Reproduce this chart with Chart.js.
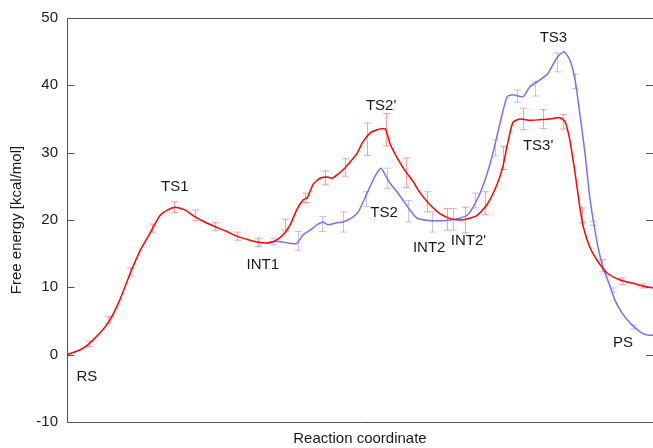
<!DOCTYPE html>
<html>
<head>
<meta charset="utf-8">
<script src="https://cdn.jsdelivr.net/npm/chart.js@4.4.1/dist/chart.umd.min.js"></script>
<style>
  html, body { margin: 0; padding: 0; background: #ffffff; }
  #wrap { width: 653px; height: 448px; }
</style>
</head>
<body>
<div id="wrap"><canvas id="c" width="653" height="448"></canvas></div>
<script>
// ---- Data (reaction coordinate 0..100, free energy in kcal/mol) ----
const redX = [0,2.2,3.6,5.6,7.3,9.0,10.8,12.5,14.2,15.9,17.2,18.4,20.1,21.8,23.5,25.3,27.0,29.0,31.2,32.6,34.3,35.5,36.9,38.1,39.2,40.3,41.0,42.0,43.2,44.4,45.2,46.1,47.4,48.6,49.5,50.5,51.7,52.9,54.3,55.1,56.3,57.7,59.0,60.2,61.9,63.7,65.4,67.1,68.4,70.0,71.7,73.4,74.4,75.1,76.1,77.3,79.0,80.7,82.4,84.1,85.0,85.8,86.7,87.5,88.1,89.2,90.4,92.2,94.4,96.6,98.3,100];
const redY = [0,0.7,1.5,3.2,5.1,8.1,12.1,15.5,18.1,20.7,21.5,21.9,21.5,20.5,19.7,19.0,18.4,17.6,17.0,16.7,16.6,16.9,17.8,19.3,21.5,23.0,23.3,25.3,26.2,26.4,26.2,26.7,27.7,28.9,29.9,31.6,32.9,33.4,33.5,31.4,29.3,27.3,25.8,24.1,22.3,20.9,20.2,20.0,20.2,20.7,22.3,25.3,28.0,31.0,34.5,35.0,34.8,34.9,35.0,35.2,34.6,31.9,27.0,22.0,19.0,16.0,14.1,12.1,11.1,10.6,10.2,9.9];

const blueX = [34.3,36.0,37.7,39.2,40.3,41.5,42.7,43.7,44.5,46.1,47.1,48.6,49.7,50.9,52.0,52.9,53.6,54.3,55.1,56.3,57.3,58.5,59.7,61.9,63.7,65.4,67.1,68.3,69.3,70.5,71.7,72.7,73.9,75.1,76.1,77.8,79.0,80.7,82.1,83.6,84.8,85.8,86.7,87.5,88.4,89.2,89.8,90.6,91.5,92.7,93.5,94.7,96.1,97.8,99.1,100];
const blueY = [16.7,16.8,16.6,16.5,17.8,18.5,19.3,19.7,19.3,19.6,19.7,20.3,21.2,23.4,25.5,27.0,27.7,26.7,25.5,24.2,23.0,21.5,20.3,19.9,19.9,20.0,20.3,20.7,21.9,24.0,26.9,30.0,34.4,38.3,38.6,38.3,39.8,40.8,41.8,44.1,45.0,43.8,40.8,35.9,29.9,23.4,20.0,16.0,12.9,10.1,8.1,6.2,4.7,3.4,2.9,2.9];

const redErrX = [3.8,7.0,10.8,14.5,18.3,21.8,25.3,29.0,32.6,37.2,40.6,44.0,47.4,51.2,54.4,57.8,61.4,64.8,67.9,71.3,74.4,77.8,81.2,84.6,87.9,91.3,94.7,98.1];
const redErrY = [1.6,5.2,12.3,18.8,21.9,20.7,19.0,17.6,16.7,19.3,23.3,26.3,27.8,32.0,33.4,27.0,22.7,20.1,20.0,22.5,29.2,35.0,35.0,34.6,20.7,13.2,10.9,10.2];
const redErr  = [0.4,0.5,0.6,0.6,0.8,0.8,0.6,0.6,0.6,0.8,0.7,1.0,1.3,2.4,2.4,2.2,1.5,1.6,1.9,1.7,1.7,1.6,1.4,1.1,1.1,0.9,0.5,0.3];

const blueErrX = [35.2,39.4,43.5,47.1,51.0,54.6,58.2,62.3,65.9,69.6,73.0,76.8,79.9,83.6,86.7,89.8,93.2,96.6];
const blueErrY = [16.8,16.9,19.4,19.7,23.1,26.2,21.3,19.7,20.1,22.9,30.7,38.4,39.5,43.4,40.6,19.5,9.6,4.1];
const blueErr  = [0.5,1.4,1.1,1.5,1.1,1.5,1.6,1.5,1.6,1.1,1.2,0.9,1.1,1.4,1.1,0.3,0.3,0.3];

const labelText = ['RS','TS1','INT1',"TS2'",'TS2','INT2',"INT2'",'TS3',"TS3'",'PS'];
const labelX    = [3.4, 18.4, 33.4, 53.6, 54.1, 61.8, 68.5, 83.0, 80.4, 94.9];
const labelY    = [-3.3, 24.9, 13.3, 36.9, 21.0, 15.9, 16.9, 47.0, 31.0, 1.7];

const yTicks = [-10, 0, 10, 20, 30, 40, 50];

const RED = '#ff0000';
const BLUE = '#7d6dff';
const RED_ERR = 'rgba(255,110,110,0.65)';
const BLUE_ERR = 'rgba(150,140,255,0.55)';
const FONT = 'Liberation Sans, Arial, sans-serif';
const FS = 15;

function toPts(xs, ys) { return xs.map((x, i) => ({ x: x, y: ys[i] })); }

const errPlugin = {
  id: 'errbars',
  beforeDatasetsDraw(chart) {
    const ctx = chart.ctx, xs = chart.scales.x, ys = chart.scales.y;
    const draw = (X, Y, E, color) => {
      ctx.save();
      ctx.strokeStyle = color;
      ctx.lineWidth = 1;
      for (let i = 0; i < X.length; i++) {
        const px = Math.round(xs.getPixelForValue(X[i])) + 0.5;
        const p1 = ys.getPixelForValue(Y[i] - E[i]);
        const p2 = ys.getPixelForValue(Y[i] + E[i]);
        ctx.beginPath();
        ctx.moveTo(px, p1); ctx.lineTo(px, p2);
        ctx.moveTo(px - 3.5, p1); ctx.lineTo(px + 3.5, p1);
        ctx.moveTo(px - 3.5, p2); ctx.lineTo(px + 3.5, p2);
        ctx.stroke();
      }
      ctx.restore();
    };
    draw(redErrX, redErrY, redErr, RED_ERR);
    draw(blueErrX, blueErrY, blueErr, BLUE_ERR);
  },
  afterDraw(chart) {
    const ctx = chart.ctx, xs = chart.scales.x, ys = chart.scales.y;
    const a = chart.chartArea;
    ctx.save();
    ctx.strokeStyle = '#555555';
    ctx.lineWidth = 1;
    const L = a.left + 0.5, R = a.right + 0.5, T = a.top + 0.5, B = a.bottom + 0.5;
    ctx.beginPath();
    ctx.moveTo(L, T); ctx.lineTo(R, T);
    ctx.moveTo(L, T); ctx.lineTo(L, B);
    ctx.moveTo(L, B); ctx.lineTo(R, B);
    ctx.moveTo(R, T); ctx.lineTo(R, B);
    yTicks.forEach(v => {
      const py = Math.round(ys.getPixelForValue(v)) + 0.5;
      ctx.moveTo(L, py); ctx.lineTo(L + 7, py);
      ctx.moveTo(a.right - 7, py); ctx.lineTo(a.right, py);
    });
    ctx.stroke();
    ctx.fillStyle = '#1a1a1a';
    ctx.font = FS + 'px ' + FONT;
    ctx.textAlign = 'center';
    ctx.textBaseline = 'middle';
    labelText.forEach((t, i) => {
      ctx.fillText(t, xs.getPixelForValue(labelX[i]), ys.getPixelForValue(labelY[i]));
    });
    ctx.restore();
  }
};

new Chart(document.getElementById('c'), {
  type: 'line',
  data: {
    datasets: [
      { data: toPts(redX, redY), borderColor: RED, borderWidth: 1.5, pointRadius: 0, tension: 0.2, fill: false },
      { data: toPts(blueX, blueY), borderColor: BLUE, borderWidth: 1.5, pointRadius: 0, tension: 0.2, fill: false }
    ]
  },
  options: {
    responsive: false,
    animation: false,
    events: [],
    layout: { padding: { top: 18, right: 0, bottom: 0, left: 0 } },
    plugins: { legend: { display: false }, tooltip: { enabled: false } },
    scales: {
      x: {
        type: 'linear', min: 0, max: 100,
        grid: { display: false, drawTicks: false },
        border: { display: false },
        ticks: { display: false },
        title: { display: true, text: 'Reaction coordinate', color: '#1a1a1a',
                 font: { family: FONT, size: FS }, padding: { top: 0, bottom: 0 } },
        afterFit(s) { s.height = 26; }
      },
      y: {
        type: 'linear', min: -10, max: 50,
        afterBuildTicks(s) { s.ticks = yTicks.map(v => ({ value: v })); },
        grid: { display: false, drawTicks: false },
        border: { display: false },
        ticks: { color: '#1a1a1a', font: { family: FONT, size: FS }, padding: 9 },
        title: { display: true, text: 'Free energy [kcal/mol]', color: '#1a1a1a',
                 font: { family: FONT, size: FS }, padding: { top: 8, bottom: 0 } },
        afterFit(s) { s.width = 67; }
      }
    }
  },
  plugins: [errPlugin]
});
</script>
</body>
</html>
